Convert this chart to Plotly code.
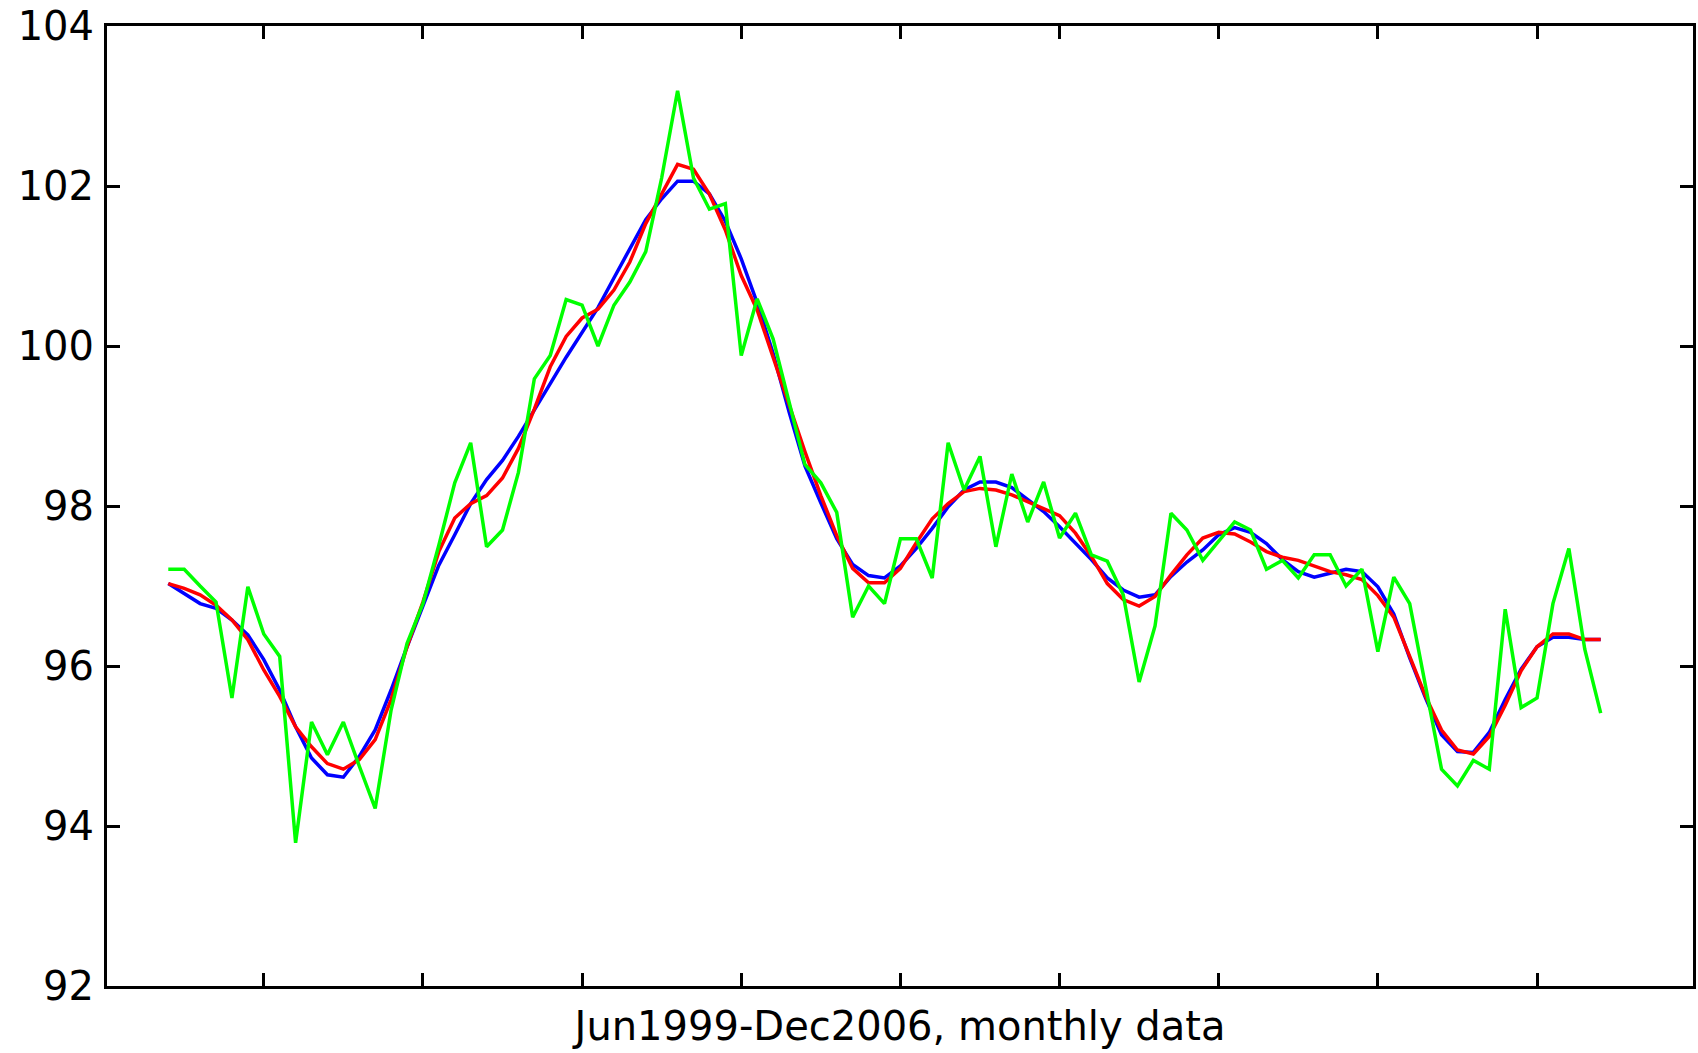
import plotly.graph_objects as go

# x positions: 91 monthly observations, Jun1999 - Dec2006
months = list(range(4, 95))

blue_series = [
    97.03, 96.91, 96.78, 96.72, 96.575, 96.39, 96.08, 95.70, 95.24, 94.85,
    94.64, 94.61, 94.87, 95.20, 95.70, 96.24, 96.76, 97.26, 97.64, 98.03,
    98.33, 98.57, 98.87, 99.19, 99.53, 99.86, 100.18, 100.48, 100.85, 101.22,
    101.58, 101.84, 102.06, 102.06, 101.90, 101.56, 101.09, 100.54, 99.91, 99.18,
    98.50, 98.04, 97.59, 97.27, 97.13, 97.10, 97.25, 97.47, 97.72, 97.99,
    98.20, 98.30, 98.30, 98.23, 98.08, 97.93, 97.74, 97.53, 97.33, 97.10,
    96.95, 96.86, 96.89, 97.12, 97.30, 97.45, 97.64, 97.73, 97.67, 97.53,
    97.33, 97.18, 97.11, 97.16, 97.21, 97.18, 96.99, 96.65, 96.10, 95.60,
    95.14, 94.93, 94.92, 95.17, 95.58, 95.96, 96.24, 96.36, 96.36, 96.33,
    96.33,
]

red_series = [
    97.03, 96.97, 96.89, 96.76, 96.575, 96.33, 95.95, 95.62, 95.24, 94.99,
    94.78, 94.71, 94.83, 95.08, 95.58, 96.24, 96.80, 97.43, 97.85, 98.03,
    98.13, 98.35, 98.72, 99.21, 99.74, 100.12, 100.35, 100.46, 100.70, 101.05,
    101.53, 101.91, 102.27, 102.21, 101.90, 101.45, 100.88, 100.45, 99.86, 99.27,
    98.68, 98.13, 97.63, 97.22, 97.04, 97.04, 97.22, 97.54, 97.84, 98.03,
    98.18, 98.22, 98.20, 98.14, 98.05, 97.97, 97.88, 97.66, 97.37, 97.03,
    96.83, 96.75, 96.87, 97.14, 97.39, 97.60, 97.67, 97.65, 97.55, 97.43,
    97.36, 97.32, 97.25, 97.18, 97.14, 97.08, 96.88, 96.61, 96.12, 95.62,
    95.20, 94.95, 94.90, 95.12, 95.51, 95.94, 96.24, 96.40, 96.40, 96.33,
    96.33,
]

green_series = [
    97.21, 97.21, 97.00, 96.80, 95.60, 96.99, 96.40, 96.12, 93.79, 95.30,
    94.89, 95.30, 94.75, 94.22, 95.45, 96.28, 96.78, 97.51, 98.29, 98.79,
    97.49, 97.70, 98.42, 99.59, 99.88, 100.58, 100.51, 100.00, 100.51, 100.80,
    101.18, 102.10, 103.19, 102.10, 101.71, 101.78, 99.88, 100.59, 100.09, 99.30,
    98.52, 98.29, 97.92, 96.61, 97.00, 96.78, 97.59, 97.59, 97.10, 98.79,
    98.20, 98.62, 97.49, 98.40, 97.80, 98.30, 97.60, 97.91, 97.39, 97.31,
    96.89, 95.80, 96.50, 97.91, 97.70, 97.32, 97.56, 97.80, 97.70, 97.21,
    97.32, 97.10, 97.39, 97.39, 97.00, 97.21, 96.18, 97.11, 96.78, 95.75,
    94.71, 94.50, 94.82, 94.71, 96.71, 95.48, 95.60, 96.78, 97.47, 96.21,
    95.41,
]

x_ticks = [10, 20, 30, 40, 50, 60, 70, 80, 90]
y_ticks = [92, 94, 96, 98, 100, 102, 104]
y_tick_labels = ["92", "94", "96", "98", "100", "102", "104"]
x_title = "Jun1999-Dec2006, monthly data"

fig = go.Figure()
fig.add_trace(go.Scatter(x=months, y=blue_series, mode="lines",
                         line=dict(color="#0000FF", width=3.5), showlegend=False))
fig.add_trace(go.Scatter(x=months, y=red_series, mode="lines",
                         line=dict(color="#FF0000", width=3.5), showlegend=False))
fig.add_trace(go.Scatter(x=months, y=green_series, mode="lines",
                         line=dict(color="#00FF00", width=3.5), showlegend=False))

font_family = "DejaVu Sans"
font_size = 40

fig.update_layout(
    width=1698,
    height=1053,
    margin=dict(l=107, r=2, t=26, b=67),
    paper_bgcolor="white",
    plot_bgcolor="white",
    font=dict(family=font_family, size=font_size, color="black"),
)

fig.update_xaxes(
    range=[0.15, 99.8],
    tickmode="array",
    tickvals=x_ticks,
    showticklabels=False,
    ticks="inside",
    ticklen=13,
    tickwidth=3,
    tickcolor="black",
    showline=True,
    linecolor="black",
    linewidth=3,
    mirror="ticks",
    showgrid=False,
    zeroline=False,
    title=dict(text=x_title, font=dict(family=font_family, size=font_size, color="black"),
               standoff=24),
)

fig.update_yaxes(
    range=[92, 104],
    tickmode="array",
    tickvals=y_ticks,
    ticktext=y_tick_labels,
    ticks="inside",
    ticklen=13,
    tickwidth=3,
    tickcolor="black",
    showline=True,
    linecolor="black",
    linewidth=3,
    mirror="ticks",
    showgrid=False,
    zeroline=False,
    ticklabelstandoff=2,
    tickfont=dict(family=font_family, size=font_size, color="black"),
)

fig.write_html("out.html")
